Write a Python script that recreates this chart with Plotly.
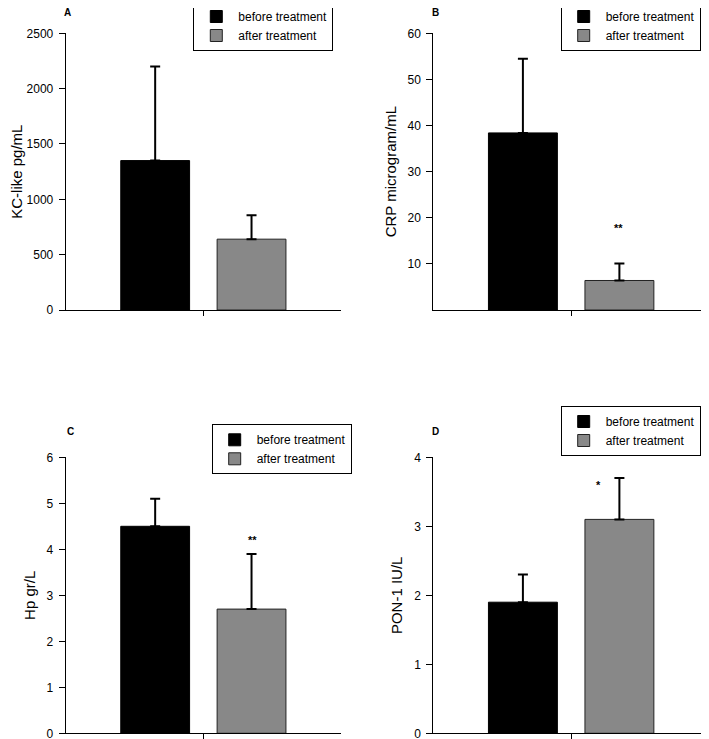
import plotly.graph_objects as go

# ---- data ----
panels = ["A", "B", "C", "D"]
y_titles = ["KC-like pg/mL", "CRP microgram/mL", "Hp gr/L", "PON-1 IU/L"]
group = ["treatment"]
before_mean = [1350, 38.4, 4.5, 1.9]
before_sd = [850, 16.1, 0.6, 0.4]
after_mean = [640, 6.4, 2.7, 3.1]
after_sd = [215, 3.7, 1.2, 0.6]
significance = ["", "**", "**", "*"]
sig_y = [None, 17.8, 4.2, 3.6]
y_max = [2500, 60, 6, 4]
y_ticks = [
    [0, 500, 1000, 1500, 2000, 2500],
    [10, 20, 30, 40, 50, 60],
    [0, 1, 2, 3, 4, 5, 6],
    [0, 1, 2, 3, 4],
]
series_names = ["before treatment", "after treatment"]

W, H = 709, 739
OFF = 8  # page body margin
FONT = "Arial, Liberation Sans, sans-serif"


def px_x(v):
    return (v - OFF) / W


def px_y(v):
    return 1 - (v - OFF) / H


# layout geometry (screen pixels)
x_doms = [(65.7, 341), (433.3, 709), (65.7, 341), (433.3, 709)]
y_doms = [(310, 33.3), (310, 33.3), (733.3, 457.3), (733.3, 457.3)]
legend_pos = [(193.3, 1), (560.7, 1), (211.7, 424.3), (560.7, 406)]
label_pos = [(67, 12), (436, 12), (70, 432), (436, 432)]
sig_dx = [0, -1, 1, -21]

fig = go.Figure()
layout = dict(
    width=W, height=H, margin=dict(l=0, r=0, t=0, b=0, autoexpand=False),
    paper_bgcolor="white", plot_bgcolor="white",
    barmode="group",
    font=dict(family=FONT, color="black", size=12),
    showlegend=True,
)
annotations = []

for i, p in enumerate(panels):
    sfx = "" if i == 0 else str(i + 1)
    xa, ya = "x" + sfx, "y" + sfx
    lg = "legend" + sfx
    fig.add_trace(go.Bar(
        x=group, y=[before_mean[i]], name=series_names[0],
        xaxis=xa, yaxis=ya, legend=lg, width=0.25, offset=-0.3,
        marker=dict(color="black", line=dict(color="black", width=1)),
        error_y=dict(type="data", symmetric=False, array=[before_sd[i]],
                     arrayminus=[0], color="black", thickness=2, width=5),
    ))
    fig.add_trace(go.Bar(
        x=group, y=[after_mean[i]], name=series_names[1],
        xaxis=xa, yaxis=ya, legend=lg, width=0.25, offset=0.05,
        marker=dict(color="#888888", line=dict(color="#222222", width=1)),
        error_y=dict(type="data", symmetric=False, array=[after_sd[i]],
                     arrayminus=[0], color="black", thickness=2, width=5),
    ))
    xd = x_doms[i]
    yd = y_doms[i]
    layout["xaxis" + sfx] = dict(
        domain=[px_x(xd[0]), px_x(xd[1])], anchor=ya, range=[-0.5, 0.5],
        showline=True, linecolor="black", linewidth=1,
        ticks="outside", ticklen=5, tickcolor="black",
        showticklabels=False, showgrid=False, zeroline=False,
        automargin=False,
    )
    layout["yaxis" + sfx] = dict(
        domain=[px_y(yd[0]), px_y(yd[1])], anchor=xa, range=[0, y_max[i]],
        tickvals=y_ticks[i], showline=True, linecolor="black", linewidth=1,
        ticks="outside", ticklen=6, tickcolor="black", ticklabelstandoff=3,
        tickfont=dict(size=12, family=FONT, color="black"),
        showgrid=False, zeroline=False, automargin=False,
        title=dict(text=y_titles[i], font=dict(size=15, family=FONT, color="black"), standoff=7),
    )
    lp = legend_pos[i]
    layout[lg] = dict(
        x=px_x(lp[0]), y=px_y(lp[1]), xanchor="left", yanchor="top",
        xref="paper", yref="paper",
        bordercolor="black", borderwidth=1, bgcolor="white",
        font=dict(size=12, family=FONT, color="black"),
        tracegroupgap=0, itemclick=False, itemwidth=34,
    )
    lb = label_pos[i]
    annotations.append(dict(
        text="<b>%s</b>" % p, x=px_x(lb[0]), y=px_y(lb[1]),
        xref="paper", yref="paper", showarrow=False,
        xanchor="center", yanchor="middle",
        font=dict(size=10, family=FONT, color="black"),
    ))
    if significance[i]:
        annotations.append(dict(
            text="<b>%s</b>" % significance[i], x=0.175, y=sig_y[i],
            xref=xa, yref=ya, showarrow=False, xshift=sig_dx[i],
            xanchor="center", yanchor="middle",
            font=dict(size=11, family=FONT, color="black"),
        ))

layout["annotations"] = annotations
fig.update_layout(**layout)
fig.write_html("out.html")
